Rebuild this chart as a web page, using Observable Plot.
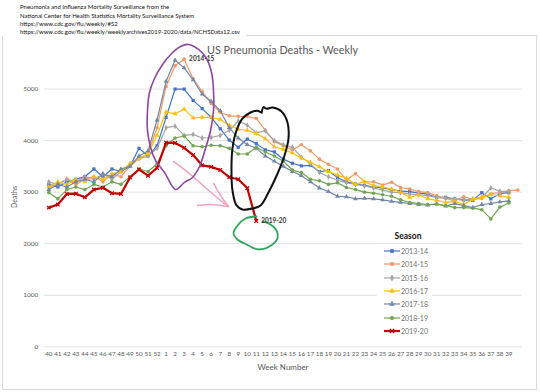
<!DOCTYPE html>
<html><head><meta charset="utf-8">
<script src="https://cdn.jsdelivr.net/npm/d3@7"></script>
<script src="https://cdn.jsdelivr.net/npm/@observablehq/plot@0.6"></script>
<style>
body{margin:0;background:#fff;}
#wrap{position:relative;width:540px;height:392px;overflow:hidden;font-family:Lato,"Open Sans",sans-serif;background:#fff;}
#frame{position:absolute;left:2px;top:35px;width:535px;height:355px;border:1px solid #d9d9d9;box-sizing:border-box;}
#chart{position:absolute;left:0;top:0;}
#header{position:absolute;left:0;top:0;width:246px;height:36px;background:#fff;}
#header div{position:absolute;left:20px;font-size:6px;color:#111;white-space:nowrap;line-height:8px;}
#title{position:absolute;left:207px;top:43px;font-size:10.8px;color:#595959;white-space:nowrap;}
#ylab{position:absolute;left:14px;top:197px;font-size:7px;color:#595959;transform:translate(-50%,-50%) rotate(-90deg);white-space:nowrap;}
#xlab{position:absolute;left:283px;top:367px;font-size:8px;color:#595959;transform:translate(-50%,-50%);white-space:nowrap;}
#legbox{position:absolute;left:377px;top:244px;width:55px;height:93px;background:#fff;}
#legtitle{position:absolute;left:408px;top:236px;transform:translate(-50%,-50%);font-size:8.5px;font-weight:bold;color:#111;}
.lrow{position:absolute;left:384px;height:8px;display:flex;align-items:center;font-size:7px;color:#707070;white-space:nowrap;}
.lrow svg{margin-right:1px;}
</style></head><body>
<div id="wrap">
  <div id="frame"></div>
  <div id="chart"></div>
  <div id="header">
    <div style="top:3px">Pneumonia and Influenza Mortality Surveillance from the</div>
    <div style="top:11.5px">National Center for Health Statistics Mortality Surveillance System</div>
    <div style="top:20px">https://www.cdc.gov/flu/weekly/#S2</div>
    <div style="top:28.3px">https://www.cdc.gov/flu/weekly/weeklyarchives2019-2020/data/NCHSData12.csv</div>
  </div>
  <div id="title">US Pneumonia Deaths - Weekly</div>
  <div id="ylab">Deaths</div>
  <div id="xlab">Week Number</div>
  <div id="legbox"></div>
  <div id="legtitle">Season</div>
  <div id="legend"></div>
</div>
<script>
// ---- data ----
const weekLabels = ["40","41","42","43","44","45","46","47","48","49","50","51","52",
  "1","2","3","4","5","6","7","8","9","10","11","12","13","14","15","16","17","18","19","20",
  "21","22","23","24","25","26","27","28","29","30","31","32","33","34","35","36","37","38","39",""];
const yTicks = [0,1000,2000,3000,4000,5000];
const seasons = ["2013-14","2014-15","2015-16","2016-17","2017-18","2018-19","2019-20"];

const s1314 = [3150,3100,3200,3250,3300,3450,3300,3450,3400,3500,3850,3700,3900,
  4450,5000,5000,4780,4620,4450,4230,4010,3870,4030,3940,
  3820,3780,3640,3560,3510,3520,3400,3420,3280,3200,3160,3130,3100,3080,3050,3020,3010,2980,2960,2900,2900,2870,2850,2840,2990,2870,2970,2990];
const s1415 = [3100,3150,3250,3150,3250,3300,3200,3350,3300,3500,3650,3750,4250,
  5050,5450,5580,5200,4950,4720,4550,4480,4470,4470,4430,4200,3980,3900,3820,
  3920,3800,3640,3540,3450,3230,3360,3200,3200,3140,3190,3090,3060,3010,2990,2930,2880,2830,2910,2860,2880,2970,2990,3030,3040];
const s1516 = [3200,3150,3250,3200,3300,3250,3350,3250,3400,3550,3650,3700,3850,
  4250,4280,4100,4120,4050,4060,4100,4200,4380,4300,4150,
  4190,4000,3920,3870,3680,3550,3380,3300,3230,3180,3150,3120,3080,3040,3000,2990,2960,2950,2930,2900,2880,2870,2840,2870,2900,3080,3020,3010];
const s1617 = [3100,3200,3150,3250,3200,3300,3250,3350,3400,3550,3650,3750,4100,
  4560,4520,4610,4440,4450,4450,4410,4300,4220,4200,4140,4040,3880,
  3830,3760,3660,3580,3490,3400,3330,3270,3150,3200,3130,3100,3060,3000,2900,2950,2870,2840,2800,2820,2760,2860,2900,2950,2930,2900];
const s1718 = [3050,3150,3100,3200,3250,3200,3350,3300,3450,3500,3700,3800,4400,
  5150,5560,5410,5180,4900,4760,4580,4250,4050,3920,3850,3700,3600,
  3500,3400,3320,3200,3080,3010,2920,2910,2870,2880,2870,2850,2820,2800,2780,2760,2750,2770,2730,2780,2740,2700,2760,2780,2810,2830];
const s1819 = [2990,2870,3050,3100,3050,3150,3100,3200,3150,3300,3450,3400,3550,
  3900,4050,4090,3900,3880,3910,3900,3850,3740,3740,3870,3780,3700,
  3600,3430,3380,3250,3220,3150,3180,3090,3050,3000,2980,2950,2920,2850,2800,2780,2760,2770,2740,2700,2700,2690,2660,2480,2710,2790];
const s1920 = [2700,2760,2965,2970,2900,3050,3085,2980,2965,3285,3440,3320,3470,
  3960,3955,3860,3720,3520,3490,3430,3290,3250,3080,2440];

// hand-drawn annotations, in (week index, deaths) space
const purpleI = [15.48,16.60,17.48,18.04,18.26,18.26,17.93,17.37,16.71,15.93,15.04,14.05,12.83,11.83,11.28,10.94,10.94,11.16,11.72,12.61,13.61,14.60];
const purpleV = [5865,5768,5593,5321,4972,4584,4196,3847,3498,3285,3188,3052,3382,3615,3867,4196,4584,4933,5205,5476,5690,5826];
const blackI = [23.60,23.80,24.10,24.80,25.80,26.46,26.57,26.13,25.36,24.35,23.47,22.58,21.47,20.81,20.36,20.25,20.36,20.81,21.47,22.36,23.10,23.55];
const blackV = [4540,4650,4620,4640,4565,4351,4041,3711,3362,2994,2742,2684,2664,2742,3033,3421,3848,4197,4429,4545,4580,4545];
const greenI = [23.70,24.58,25.24,25.35,24.80,23.25,21.92,20.92,20.48,20.92,21.81,23.03];
const greenV = [2431,2373,2256,2101,1985,1888,1985,2082,2198,2353,2489,2528];
const pinkShaftI = [13.82,15.71,17.48,19.04,19.93];
const pinkShaftV = [3595,3343,3071,2838,2722];
const pinkHead1I = [18.26,19.26,19.93];
const pinkHead1V = [3168,2877,2722];
const pinkHead2I = [16.49,17.93,19.93];
const pinkHead2V = [2742,2761,2722];

// ---- styles ----
const series = [s1314, s1415, s1516, s1617, s1718, s1819, s1920];
const colors = ["#4472C4","#EE9A66","#A5A5A5","#FFC000","#7287A8","#72A553","#C00000"];
const symbols = ["square","circle","diamond","triangle","triangle","circle","times"];
const widths = [1.2,1.2,1.2,1.2,1.2,1.2,2.2];

const rows = seasons.map((s,k)=>series[k].map((v,i)=>({season:s,i,v})));
const pts = (I,V)=>I.map((x,j)=>({i:x,v:V[j]}));

const peak1415 = d3.maxIndex(s1415);
const labels = [
  {i:peak1415, v:s1415[peak1415], t:"2014-15"},
  {i:s1920.length-1, v:s1920[s1920.length-1], t:"2019-20"}
];

const marks = [
  Plot.ruleY(yTicks, {stroke:"#d9d9d9", strokeWidth:0.8}),
  Plot.axisY({ticks:yTicks, tickSize:0, tickPadding:6, fontSize:6.5, tickFormat:d=>String(d), label:null}),
  Plot.axisX({ticks:d3.range(52), tickSize:0, tickPadding:5, fontSize:6.3, tickFormat:i=>weekLabels[i], label:null})
];
rows.forEach((r,k)=>{
  marks.push(Plot.line(r, {x:"i", y:"v", stroke:colors[k], strokeWidth:widths[k]}));
  if (symbols[k]==="times")
    marks.push(Plot.dot(r, {x:"i", y:"v", symbol:"times", r:1.8, stroke:colors[k], strokeWidth:1.2}));
  else
    marks.push(Plot.dot(r, {x:"i", y:"v", symbol:symbols[k], r:1.8, fill:colors[k], stroke:"none"}));
});
marks.push(
  Plot.line(pts(pinkShaftI,pinkShaftV), {x:"i", y:"v", curve:"catmull-rom", stroke:"#F2A3BC", strokeWidth:1.5}),
  Plot.line(pts(pinkHead1I,pinkHead1V), {x:"i", y:"v", curve:"catmull-rom", stroke:"#F2A3BC", strokeWidth:1.5}),
  Plot.line(pts(pinkHead2I,pinkHead2V), {x:"i", y:"v", curve:"catmull-rom", stroke:"#F2A3BC", strokeWidth:1.5}),
  Plot.line(pts(purpleI,purpleV), {x:"i", y:"v", curve:"catmull-rom-closed", stroke:"#8E47A0", strokeWidth:1.6}),
  Plot.line(pts(blackI,blackV), {x:"i", y:"v", curve:"catmull-rom", stroke:"#111", strokeWidth:2}),
  Plot.line(pts(greenI,greenV), {x:"i", y:"v", curve:"catmull-rom", stroke:"#2FA65A", strokeWidth:1.8}),
  Plot.text(labels, {x:"i", y:"v", text:"t", dx:5, dy:0, textAnchor:"start", fontSize:6.5, fill:"#333", fontWeight:"bold"})
);

const chart = Plot.plot({
  width:540, height:392,
  marginLeft:43.8, marginRight:18.1, marginTop:37, marginBottom:45.7,
  x:{type:"linear", domain:[-0.5,52.5]},
  y:{domain:[0,6000]},
  style:{background:"transparent", fontFamily:"Lato, sans-serif", color:"#595959"},
  marks
});
document.getElementById("chart").appendChild(chart);

// ---- legend ----
const symMap = {square:d3.symbolSquare, circle:d3.symbolCircle, diamond:d3.symbolDiamond, triangle:d3.symbolTriangle, times:d3.symbolTimes};
const leg = d3.select("#legend");
seasons.forEach((s,k)=>{
  const row = leg.append("div").attr("class","lrow").style("top", (247 + k*13.35) + "px");
  const svg = row.append("svg").attr("width",16).attr("height",8);
  svg.append("line").attr("x1",0).attr("x2",16).attr("y1",4).attr("y2",4)
    .attr("stroke",colors[k]).attr("stroke-width",widths[k]);
  const p = svg.append("path").attr("d", d3.symbol(symMap[symbols[k]], 14)()).attr("transform","translate(8,4)");
  if (symbols[k]==="times") p.attr("fill","none").attr("stroke",colors[k]).attr("stroke-width",1.2);
  else p.attr("fill",colors[k]);
  row.append("span").text(s);
});
</script>
</body></html>
